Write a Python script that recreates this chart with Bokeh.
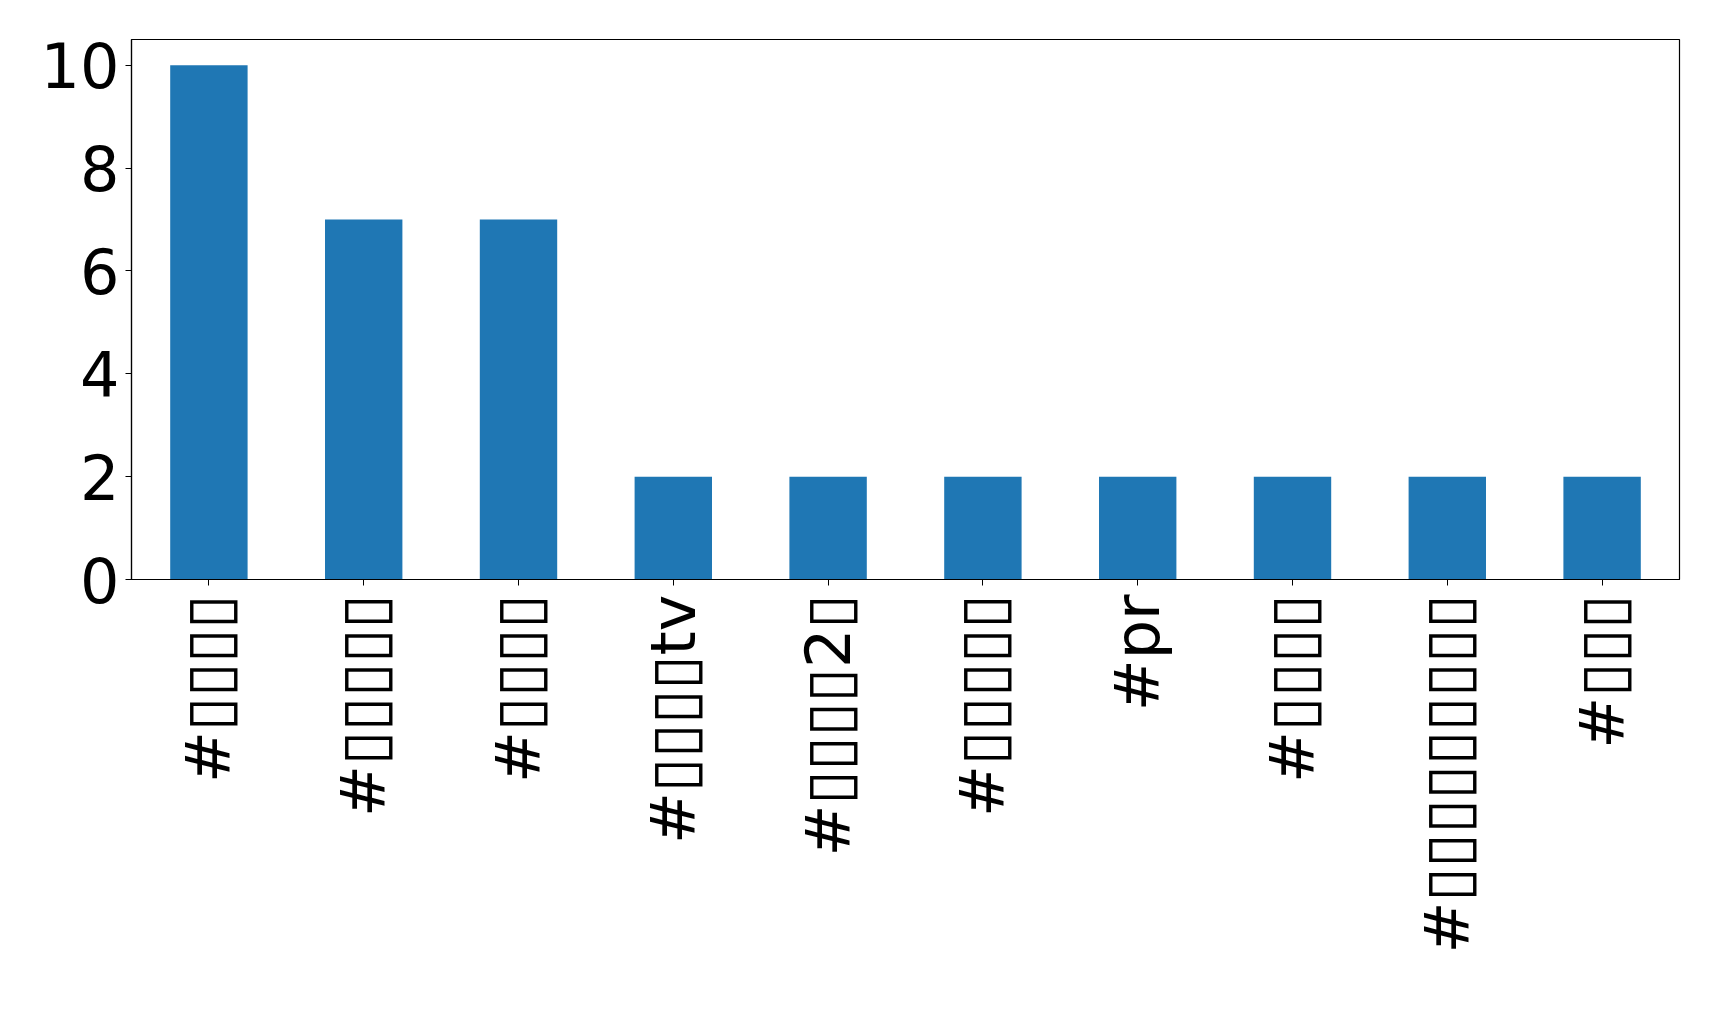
import math
from bokeh.plotting import figure
from bokeh.models import Range1d, FixedTicker, ColumnDataSource
from bokeh.embed import file_html
from bokeh.resources import INLINE

labels = ["#▯▯▯▯", "#▯▯▯▯▯", "#▯▯▯▯", "#▯▯▯▯tv", "#▯▯▯▯2▯",
          "#▯▯▯▯▯", "#pr", "#▯▯▯▯", "#▯▯▯▯▯▯▯▯▯", "#▯▯▯"]
counts = [10, 7, 7, 2, 2, 2, 2, 2, 2, 2]
y_ticks = [0, 2, 4, 6, 8, 10]

positions = list(range(len(labels)))
src = ColumnDataSource(dict(x=positions, top=counts))

p = figure(frame_width=1548, frame_height=540,
           x_range=Range1d(-0.5, len(labels) - 0.5), y_range=Range1d(0, 10.5),
           output_backend="svg", toolbar_location=None,
           min_border_left=131, min_border_right=24, min_border_top=39, min_border_bottom=410)

p.vbar(x="x", top="top", width=0.5, source=src, fill_color="#1f77b4", line_color=None)

p.xgrid.visible = False
p.ygrid.visible = False
p.outline_line_color = "black"
p.outline_line_width = 1.2
p.background_fill_color = "white"
p.border_fill_color = "white"

for ax in (p.xaxis[0], p.yaxis[0]):
    ax.major_label_text_font = "DejaVu Sans"
    ax.major_label_text_font_size = "62px"
    ax.major_label_text_color = "black"
    ax.axis_line_color = "black"
    ax.axis_line_width = 1.2
    ax.major_tick_line_color = "black"
    ax.major_tick_out = 6
    ax.major_tick_in = 0
    ax.minor_tick_line_color = None

p.xaxis[0].ticker = FixedTicker(ticks=positions)
p.xaxis[0].major_label_overrides = {float(i): lab for i, lab in enumerate(labels)}
p.xaxis[0].major_label_orientation = math.pi / 2
p.xaxis[0].major_label_standoff = 9

p.yaxis[0].ticker = FixedTicker(ticks=y_ticks)
p.yaxis[0].major_label_standoff = 6

open("out.html", "w").write(file_html(p, INLINE))
